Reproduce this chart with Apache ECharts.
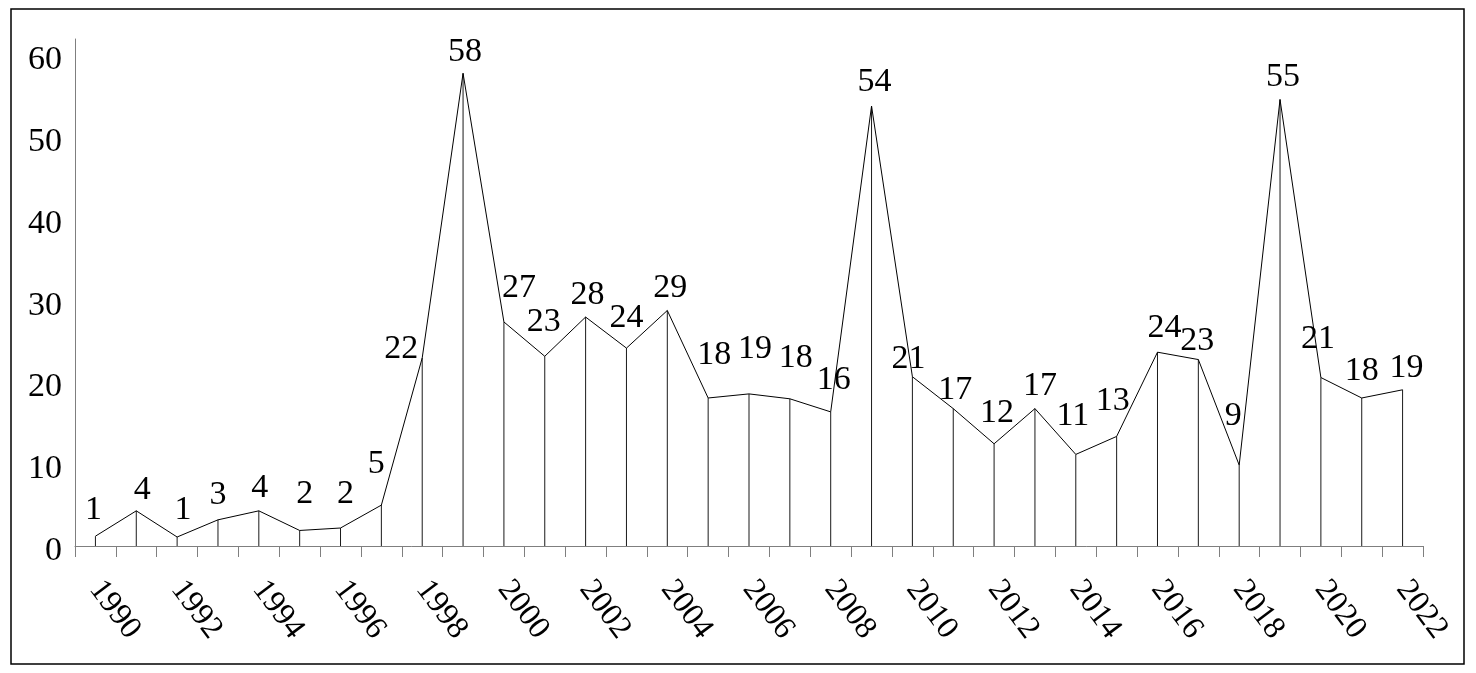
<!DOCTYPE html>
<html>
<head>
<meta charset="utf-8">
<script src="https://cdn.jsdelivr.net/npm/echarts@6/dist/echarts.min.js"></script>
<style>
html,body{margin:0;padding:0;background:#fff;}
#chart{width:1476px;height:673px;}
</style>
</head>
<body>
<div id="chart"></div>
<script>
// Data
const years = ['1990','1991','1992','1993','1994','1995','1996','1997','1998','1999','2000','2001','2002','2003','2004','2005','2006','2007','2008','2009','2010','2011','2012','2013','2014','2015','2016','2017','2018','2019','2020','2021','2022'];
const values = [1.2,4.3,1.1,3.2,4.3,1.9,2.2,5.0,23.0,57.8,27.4,23.2,28.0,24.2,28.8,18.1,18.6,18.0,16.4,53.8,20.7,16.8,12.5,16.8,11.2,13.4,23.7,22.8,9.9,54.6,20.6,18.1,19.1];
const valueLabels = ['1','4','1','3','4','2','2','5','22','58','27','23','28','24','29','18','19','18','16','54','21','17','12','17','11','13','24','23','9','55','21','18','19'];
const yTicks = [0,10,20,30,40,50,60];

// Label placement (style)
const labelDx = [-2,6,6,0,1,5,5,-5,-21,2,15,-1,2,0,3,6,6,6,3,3,-4,2,3,5,-3,-4,7,-1,-6,3,-3,0,4];
const labelDy = [-11,-6,-12,-10,-8,-21,-19,-26,6,-6,-19,-19,-7,-15,-7,-28,-30,-26,-17,-9,-3,-4,-16,-8,-23,-20,-9,-3,-34,-7,-23,-12,-7];
const labelShiftY = 2;

const FONT = 'Liberation Serif';
const chart = echarts.init(document.getElementById('chart'), null, {renderer:'canvas'});

const barData = values.map((v, i) => ({
  value: v,
  label: {offset: [labelDx[i], labelDy[i] + labelShiftY], formatter: valueLabels[i]}
}));

chart.setOption({
  backgroundColor: '#fff',
  animation: false,
  graphic: [{
    type: 'rect', z: 100, silent: true,
    shape: {x: 11, y: 9, width: 1453, height: 655},
    style: {fill: 'none', stroke: '#000', lineWidth: 1.5}
  }],
  grid: {left: 75, right: 53, top: 39, bottom: 127, containLabel: false},
  xAxis: {
    type: 'category',
    data: years,
    boundaryGap: true,
    axisLine: {lineStyle: {color: '#7f7f7f', width: 1}},
    axisTick: {show: true, interval: 0, length: 11, inside: false, lineStyle: {color: '#7f7f7f', width: 1}},
    axisLabel: {interval: 1, rotate: -53, margin: 38, fontFamily: FONT, fontSize: 32, color: '#000'},
    splitLine: {show: false}
  },
  yAxis: {
    type: 'value',
    min: 0, max: 62, interval: 10,
    axisLine: {show: true, lineStyle: {color: '#7f7f7f', width: 1}},
    axisTick: {show: false},
    splitLine: {show: false},
    axisLabel: {
      margin: 13, color: '#000',
      showMaxLabel: false,
      formatter: v => yTicks.indexOf(v) >= 0 ? '{t|' + v + '}' : '',
      rich: {t: {fontFamily: FONT, fontSize: 34, lineHeight: 34, color: '#000', padding: [10, 0, 0, 0]}}
    }
  },
  series: [
    {
      type: 'bar',
      data: barData,
      barWidth: 1,
      itemStyle: {color: '#1a1a1a'},
      label: {
        show: true, position: 'top', distance: 0,
        fontFamily: FONT, fontSize: 34, lineHeight: 34, color: '#000'
      },
      z: 2
    },
    {
      type: 'line',
      data: values,
      symbol: 'none',
      lineStyle: {color: '#000', width: 1},
      z: 3
    }
  ]
});
</script>
</body>
</html>
